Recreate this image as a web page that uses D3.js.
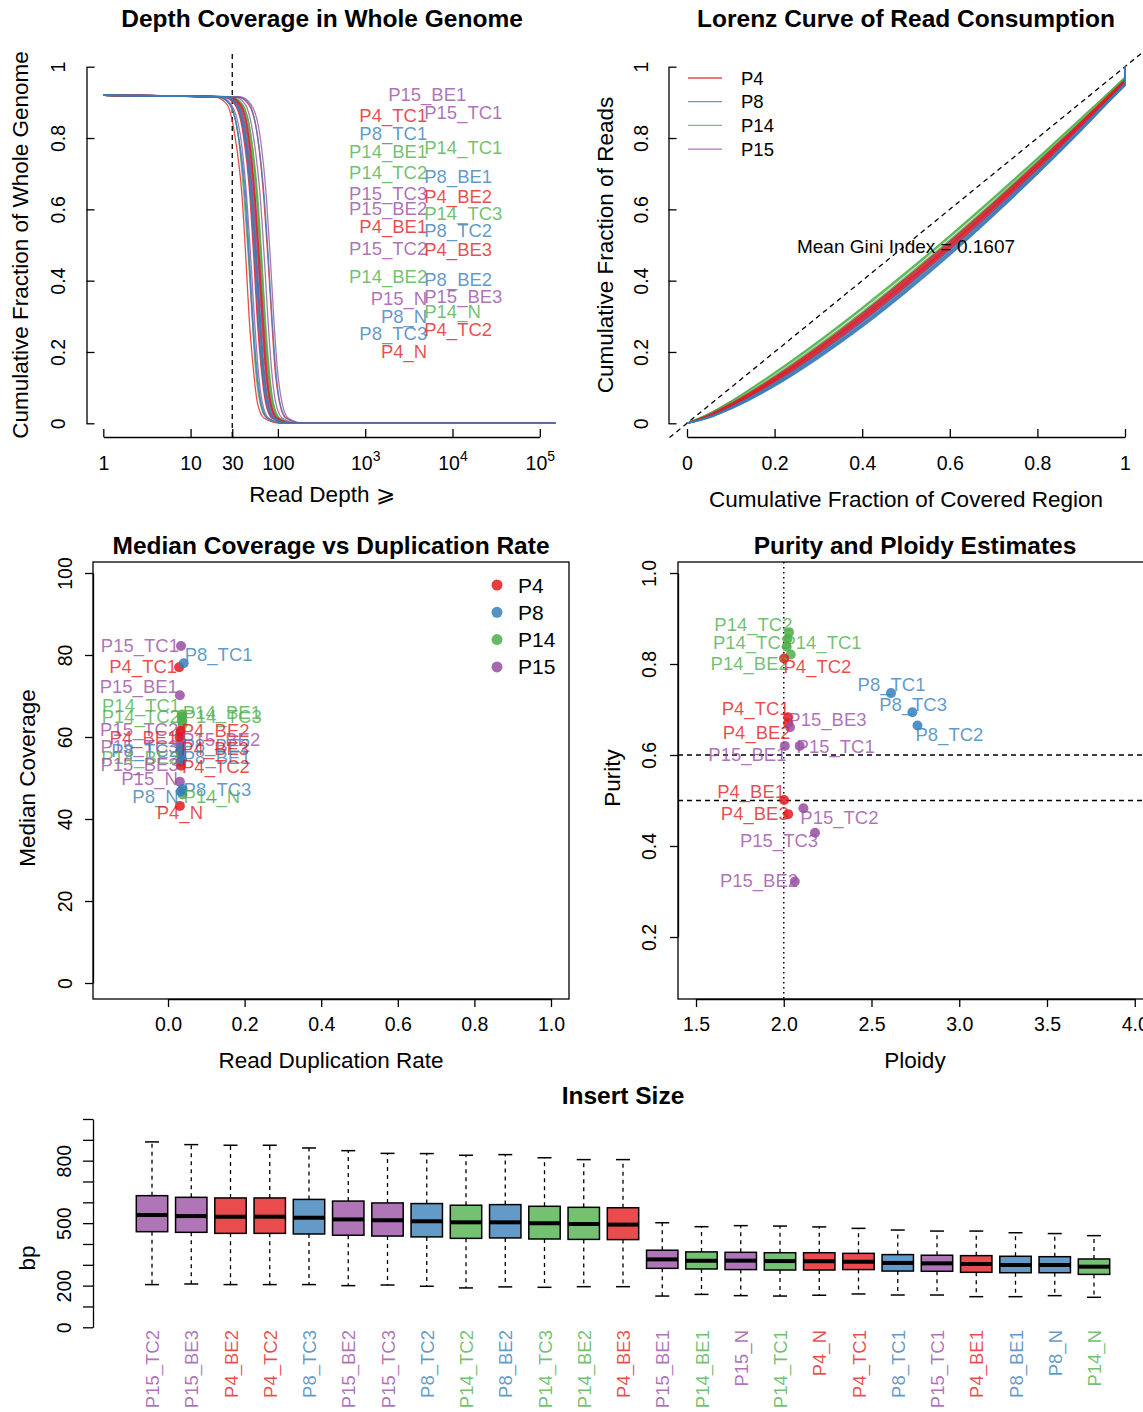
<!DOCTYPE html>
<html><head><meta charset="utf-8">
<script src="https://cdn.jsdelivr.net/npm/d3@7"></script>
<style>body{margin:0;background:#fff}</style>
</head><body><svg id="c" width="1143" height="1412"></svg>
<script>
// ---------------- data ----------------
const patients = ["P4","P8","P14","P15"];
const patientColors = ["#E41A1C","#377EB8","#4DAF4A","#984EA3"];

const samples = ["P14_BE1","P14_BE2","P14_N","P14_TC1","P14_TC2","P14_TC3",
  "P15_BE1","P15_BE2","P15_BE3","P15_N","P15_TC1","P15_TC2","P15_TC3",
  "P4_BE1","P4_BE2","P4_BE3","P4_N","P4_TC1","P4_TC2",
  "P8_BE1","P8_BE2","P8_N","P8_TC1","P8_TC2","P8_TC3"];

// depth (x) at which each sample's covered fraction reaches the levels below
const coverageLevels = [0.92,0.915,0.895,0.81,0.63,0.46,0.29,0.16,0.06,0.015,0,0];
const depthKnots = [
 [1,29,39,49,58,65,71,78,88,104,162,150000],
 [1,25,33,41,50,55,61,66,74,88,138,150000],
 [1,21,28,35,41,46,51,55,62,74,115,150000],
 [1,29,39,49,59,65.5,72,79,88,105,164,150000],
 [1,29,38,48,58,64,70,77,86,102,160,150000],
 [1,28,38,47,57,63,69,76,85,101,158,150000],
 [1,32,42,52,63,70,77,84,94,112,175,150000],
 [1,27,35,44,53,59,65,71,80,94,148,150000],
 [1,24,32,41,49,54,59,65,73,86,135,150000],
 [1,22,29,37,44,49,54,59,66,78,122,150000],
 [1,37,49,62,74,82,90,98,111,131,205,150000],
 [1,27,37,46,55,61,67,73,82,98,152,150000],
 [1,26,35,43,52,57.5,63,69,78,92,144,150000],
 [1,27,36,45,54,60,66,72,81,96,150,150000],
 [1,28,37,46,55,61.5,68,74,83,98,154,150000],
 [1,25,34,42,51,56.5,62,68,76,90,141,150000],
 [1,19,26,32,39,43,47,52,58,69,108,150000],
 [1,35,46,58,69,77,85,92,104,123,192,150000],
 [1,24,32,40,48,53,58,64,72,85,132,150000],
 [1,25,33,41,49,54.5,60,65,74,87,136,150000],
 [1,25,34,42,50,56,62,67,76,90,140,150000],
 [1,21,28,35,42,46.7,51,56,63,75,117,150000],
 [1,35,47,58,70,78,86,94,105,125,195,150000],
 [1,26,34,43,51,57,63,68,77,91,142,150000],
 [1,21,28,35,43,47.3,52,57,64,76,118,150000]];
const depthTicks = [1,10,30,100,1000,10000,100000];
const depthTickLabels = ["1","10","30","100","10^3","10^4","10^5"];
const depthLabelNames = ["P15_BE1","P4_TC1","P15_TC1","P8_TC1","P14_BE1","P14_TC1","P14_TC2","P8_BE1","P15_TC3","P4_BE2","P15_BE2","P14_TC3","P4_BE1","P8_TC2","P15_TC2","P4_BE3","P14_BE2","P8_BE2","P15_N","P15_BE3","P8_N","P14_N","P8_TC3","P4_TC2","P4_N"];
const depthLabelY = [0.921,0.862,0.871,0.813,0.762,0.774,0.703,0.692,0.645,0.635,0.603,0.589,0.551,0.542,0.491,0.486,0.413,0.404,0.351,0.355,0.299,0.313,0.252,0.262,0.201];
const depthLabelSide = ["C","L","R","L","L","R","L","R","L","R","L","R","L","R","L","R","L","R","L","R","L","R","L","R","L"];
const depthLabelAtDepth = 5000;
const depthCutoff = 30;

// Lorenz curves
const lorenzX = [0,0.05,0.1,0.2,0.3,0.4,0.5,0.6,0.7,0.8,0.9,0.95,1];
const lorenzY = [
 [0,.027,.061,.141,.229,.323,.422,.525,.632,.742,.855,.912,.970],
 [0,.024,.056,.131,.217,.310,.409,.512,.620,.732,.847,.905,.965],
 [0,.026,.060,.139,.226,.320,.419,.522,.629,.740,.853,.910,.968],
 [0,.025,.058,.134,.220,.313,.412,.515,.623,.735,.849,.907,.966],
 [0,.022,.053,.127,.211,.304,.403,.506,.615,.728,.844,.903,.962],
 [0,.027,.062,.143,.231,.325,.424,.527,.634,.744,.857,.913,.971],
 [0,.021,.050,.122,.206,.297,.395,.499,.608,.722,.839,.899,.960],
 [0,.020,.048,.118,.200,.291,.389,.493,.602,.716,.835,.895,.957],
 [0,.023,.054,.128,.213,.306,.405,.508,.617,.730,.845,.904,.963],
 [0,.021,.051,.124,.208,.300,.398,.501,.610,.724,.840,.900,.960],
 [0,.018,.046,.114,.195,.285,.383,.487,.596,.711,.831,.892,.955],
 [0,.019,.047,.116,.198,.288,.386,.490,.599,.714,.833,.894,.956],
 [0,.017,.043,.109,.189,.277,.375,.479,.589,.704,.825,.888,.948],
 [0,.024,.055,.130,.215,.308,.407,.510,.618,.731,.846,.905,.964],
 [0,.022,.052,.126,.210,.302,.401,.504,.613,.726,.842,.902,.962],
 [0,.020,.049,.121,.204,.295,.393,.497,.606,.720,.838,.898,.959],
 [0,.020,.048,.119,.201,.292,.390,.494,.603,.717,.836,.896,.957],
 [0,.019,.046,.115,.196,.286,.384,.488,.597,.712,.832,.893,.955],
 [0,.021,.050,.123,.207,.298,.396,.500,.609,.723,.840,.899,.960],
 [0,.017,.044,.110,.190,.279,.377,.481,.591,.706,.826,.889,.950],
 [0,.016,.041,.106,.185,.273,.370,.474,.585,.701,.823,.886,.950],
 [0,.018,.045,.113,.194,.283,.381,.485,.594,.709,.830,.891,.954],
 [0,.015,.040,.104,.182,.270,.367,.471,.582,.699,.821,.885,.947],
 [0,.017,.043,.108,.188,.276,.374,.478,.588,.703,.824,.887,.949],
 [0,.016,.041,.105,.184,.272,.369,.473,.584,.700,.822,.885,.946]];
const meanGini = "Mean Gini Index = 0.1607";

// Median coverage vs duplication rate (sample order as `samples`)
const medianCoverage = [65,55,46,65.5,64,63,70.2,59,54,49.1,82.2,61,57.5,60,61.5,56.5,43.2,77,53,54.5,56,46.7,78,57,47.3];
const dupRate = [.036,.035,.038,.037,.036,.038,.031,.034,.033,.031,.034,.032,.033,.030,.033,.032,.031,.029,.034,.036,.035,.033,.041,.034,.038];
const covLabelNames = ["P15_TC1","P4_TC1","P15_BE1","P14_TC1","P14_TC2","P15_TC2","P4_BE1","P15_TC3","P8_TC2","P14_BE2","P15_BE3","P15_N","P8_N","P4_N",
  "P8_TC1","P14_BE1","P14_TC3","P4_BE2","P15_BE2","P8_BE2","P4_BE3","P8_BE1","P4_TC2","P8_TC3","P14_N"];
const covLabelY = [82.2,77.1,72.4,67.6,65.0,61.9,59.9,57.6,56.8,55.1,53.2,49.8,45.6,41.5,
  80.2,65.9,64.9,61.7,59.5,58.0,57.1,55.1,52.7,47.3,45.4];
const covLabelSide = ["L","L","L","L","L","L","L","L","L","L","L","L","L","B","R","R","R","R","R","R","R","R","R","R","R"];

// Purity / ploidy
const puritySamples = ["P14_TC2","P14_TC3","P14_TC1","P14_BE2","P4_TC2","P8_TC1","P8_TC3","P8_TC2","P4_TC1","P4_BE2","P15_BE3","P15_BE1","P15_TC1","P4_BE1","P4_BE3","P15_TC2","P15_TC3","P15_BE2"];
const ploidy = [2.030,2.021,2.017,2.040,2.002,2.611,2.733,2.762,2.025,2.025,2.036,2.006,2.091,2.002,2.025,2.112,2.178,2.063];
const purity = [0.870,0.855,0.838,0.821,0.812,0.736,0.694,0.665,0.683,0.670,0.661,0.620,0.620,0.501,0.470,0.483,0.429,0.322];
const purityLabelX = [1.827,1.819,2.221,1.806,2.192,2.614,2.737,2.944,1.840,1.846,2.249,1.793,2.296,1.814,1.835,2.317,1.973,1.859];
const purityLabelY = [0.886,0.848,0.848,0.802,0.794,0.754,0.711,0.646,0.703,0.649,0.678,0.602,0.618,0.519,0.472,0.463,0.412,0.324];
const purityRefLines = [0.6,0.5];
const ploidyRef = 2.0;

// Insert size boxplots
const boxOrder = ["P15_TC2","P15_BE3","P4_BE2","P4_TC2","P8_TC3","P15_BE2","P15_TC3","P8_TC2","P14_TC2","P8_BE2","P14_TC3","P14_BE2","P4_BE3",
  "P15_BE1","P14_BE1","P15_N","P14_TC1","P4_N","P4_TC1","P8_TC1","P15_TC1","P4_BE1","P8_BE1","P8_N","P14_N"];
const whiskerHigh = [890,877,874,874,861,848,835,834,826,829,814,805,805,502,483,488,486,482,475,467,462,462,454,450,440];
const q3 = [632,624,621,621,614,606,597,594,586,589,581,576,574,370,362,360,358,358,355,349,346,344,341,339,328];
const median = [539,534,531,531,526,518,514,509,504,504,499,496,493,326,320,320,318,317,315,309,307,304,299,299,291];
const q1 = [459,456,451,451,448,442,438,434,427,429,424,422,421,283,280,277,275,275,277,270,269,264,262,262,254];
const whiskerLow = [205,208,205,205,205,200,203,197,189,194,192,195,195,150,158,152,150,154,160,155,155,147,147,152,144];
const bpTicks = [0,100,200,300,400,500,600,700,800,900,1000];
const bpTickLabels = [0,200,500,800];

// ---------------- drawing ----------------
const FONT = '"Liberation Sans", Arial, Helvetica, sans-serif';
const svg = d3.select("#c").attr("font-family", FONT);
const col = s => patientColors[patients.indexOf(s.split("_")[0])];
const TICKFS = 19.5, LABFS = 18.5, AXFS = 22.5, TITFS = 24.5;

function text(x, y, str, o = {}) {
  const t = svg.append("text").attr("x", x).attr("y", y).text(str)
    .attr("font-size", o.fs || AXFS).attr("text-anchor", o.anchor || "middle")
    .attr("dominant-baseline", "central").attr("fill", o.fill || "#000");
  if (o.bold) t.attr("font-weight", "bold");
  if (o.rot) t.attr("transform", `rotate(-90,${x},${y})`);
  if (o.op) t.attr("fill-opacity", o.op);
  return t;
}
function styleAxis(g) {
  g.attr("font-family", FONT).attr("font-size", TICKFS);
  g.select(".domain").attr("stroke", "#000").attr("stroke-width", 1.3);
  g.selectAll(".tick line").attr("stroke", "#000").attr("stroke-width", 1.3);
  g.selectAll(".tick text").attr("fill", "#000");
}
function rotY(g, off) {
  g.selectAll(".tick text").attr("transform", "rotate(-90)").attr("x", 0).attr("y", -off)
    .attr("dy", null).attr("text-anchor", "middle").attr("dominant-baseline", "central");
}
function xLab(g, off) {
  g.selectAll(".tick text").attr("y", off).attr("dy", null).attr("dominant-baseline", "central");
}

// ===== Panel 1: Depth coverage =====
const xD = d3.scaleLog().domain([1, 1e5]).range([103.3, 539.8]);
const yD = d3.scaleLinear().domain([0, 1]).range([423.3, 66.7]);
const fmt01 = d => d === 0 ? "0" : d === 1 ? "1" : d3.format(".1f")(d);

let g = svg.append("g").attr("transform", "translate(0,437)")
  .call(d3.axisBottom(xD).tickValues(depthTicks).tickFormat((d, i) => depthTickLabels[i]).tickSizeInner(-8).tickSizeOuter(0));
styleAxis(g); xLab(g, 26);
g.selectAll(".tick text").each(function(d, i) {
  const lab = depthTickLabels[i];
  if (lab.includes("^")) {
    const [b, e] = lab.split("^");
    const t = d3.select(this).text(null);
    t.append("tspan").text(b);
    t.append("tspan").attr("dy", "-0.5em").attr("font-size", 14).text(e);
  }
});
g = svg.append("g").attr("transform", "translate(86.5,0)")
  .call(d3.axisLeft(yD).tickValues([0, .2, .4, .6, .8, 1]).tickFormat(fmt01).tickSizeInner(-8).tickSizeOuter(0));
styleAxis(g); rotY(g, 29);

svg.append("line").attr("x1", xD(depthCutoff)).attr("x2", xD(depthCutoff)).attr("y1", 54).attr("y2", 437)
  .attr("stroke", "#000").attr("stroke-width", 1.3).attr("stroke-dasharray", "5,4");

const depthLine = d3.line().x(d => xD(d[0])).y(d => yD(d[1])).curve(d3.curveMonotoneX);
samples.forEach((s, i) => {
  const pts = depthKnots[i].map((d, j) => [d, coverageLevels[j]]);
  svg.append("path").attr("d", depthLine(pts)).attr("fill", "none")
    .attr("stroke", col(s)).attr("stroke-opacity", 0.78).attr("stroke-width", 1.3);
});
depthLabelNames.forEach((s, i) => {
  const side = depthLabelSide[i];
  const x = xD(depthLabelAtDepth) + (side === "L" ? 1 : side === "R" ? -2 : 1);
  text(x, yD(depthLabelY[i]), s, { fs: LABFS, fill: col(s), op: 0.78,
    anchor: side === "L" ? "end" : side === "R" ? "start" : "middle" });
});
text(322, 18, "Depth Coverage in Whole Genome", { fs: TITFS, bold: true });
text(322, 494, "Read Depth \u2A7E");
text(20, 245, "Cumulative Fraction of Whole Genome", { rot: true });

// ===== Panel 2: Lorenz =====
const xL = d3.scaleLinear().domain([0, 1]).range([687, 1125]);
const yL = yD;
g = svg.append("g").attr("transform", "translate(0,437)")
  .call(d3.axisBottom(xL).tickValues([0, .2, .4, .6, .8, 1]).tickFormat(fmt01).tickSizeInner(-8).tickSizeOuter(0));
styleAxis(g); xLab(g, 26);
g = svg.append("g").attr("transform", "translate(668.5,0)")
  .call(d3.axisLeft(yL).tickValues([0, .2, .4, .6, .8, 1]).tickFormat(fmt01).tickSizeInner(-8).tickSizeOuter(0));
styleAxis(g); rotY(g, 28);

svg.append("line").attr("x1", xL(-0.04)).attr("y1", yL(-0.04)).attr("x2", xL(1.04)).attr("y2", yL(1.04))
  .attr("stroke", "#000").attr("stroke-width", 1.3).attr("stroke-dasharray", "5,4");
const lorLine = d3.line().x(d => xL(d[0])).y(d => yL(d[1])).curve(d3.curveMonotoneX);
samples.forEach((s, i) => {
  const pts = lorenzX.map((x, j) => [x, lorenzY[i][j]]);
  svg.append("path").attr("d", lorLine(pts) + `L${xL(1)},${yL(1)}`).attr("fill", "none")
    .attr("stroke", col(s)).attr("stroke-opacity", 0.78).attr("stroke-width", 1.3);
});
patients.forEach((p, i) => {
  const y = 78 + i * 23.7;
  svg.append("line").attr("x1", 688).attr("x2", 722).attr("y1", y).attr("y2", y)
    .attr("stroke", patientColors[i]).attr("stroke-opacity", 0.78).attr("stroke-width", 1.3);
  text(741, y, p, { fs: LABFS, anchor: "start" });
});
text(906, 246, meanGini, { fs: 19 });
text(906, 18, "Lorenz Curve of Read Consumption", { fs: TITFS, bold: true });
text(906, 499, "Cumulative Fraction of Covered Region");
text(605, 245, "Cumulative Fraction of Reads", { rot: true });

// ===== Panel 3: Median coverage vs duplication =====
const xC = d3.scaleLinear().domain([0, 1]).range([168, 551]);
const yC = d3.scaleLinear().domain([0, 100]).range([983, 573]);
svg.append("rect").attr("x", 93).attr("y", 562).attr("width", 476).attr("height", 437)
  .attr("fill", "none").attr("stroke", "#000").attr("stroke-width", 1.3);
g = svg.append("g").attr("transform", "translate(0,999)")
  .call(d3.axisBottom(xC).tickValues([0, .2, .4, .6, .8, 1]).tickFormat(d3.format(".1f")).tickSizeInner(8).tickSizeOuter(0));
styleAxis(g); xLab(g, 25);
g = svg.append("g").attr("transform", "translate(93,0)")
  .call(d3.axisLeft(yC).tickValues([0, 20, 40, 60, 80, 100]).tickSizeInner(8).tickSizeOuter(0));
styleAxis(g); rotY(g, 28);

samples.forEach((s, i) => {
  svg.append("circle").attr("cx", xC(dupRate[i])).attr("cy", yC(medianCoverage[i])).attr("r", 5)
    .attr("fill", col(s)).attr("fill-opacity", 0.85);
});
covLabelNames.forEach((s, i) => {
  const k = samples.indexOf(s);
  const side = covLabelSide[i];
  const px = xC(dupRate[k]);
  const x = side === "L" ? px - 2 : side === "R" ? px + 1 : px;
  text(x, yC(covLabelY[i]), s, { fs: LABFS, fill: col(s), op: 0.78,
    anchor: side === "L" ? "end" : side === "R" ? "start" : "middle" });
});
patients.forEach((p, i) => {
  const y = 585 + i * 27.3;
  svg.append("circle").attr("cx", 497).attr("cy", y).attr("r", 5.5).attr("fill", patientColors[i]).attr("fill-opacity", 0.85);
  text(518, y, p, { fs: 21, anchor: "start" });
});
text(331, 545, "Median Coverage vs Duplication Rate", { fs: TITFS, bold: true });
text(331, 1060, "Read Duplication Rate");
text(27, 778, "Median Coverage", { rot: true });

// ===== Panel 4: Purity / Ploidy =====
const xP = d3.scaleLinear().domain([1.5, 4.0]).range([696, 1134.75]);
const yP = d3.scaleLinear().domain([0.2, 1.0]).range([937, 573]);
svg.append("rect").attr("x", 678).attr("y", 562).attr("width", 474).attr("height", 437)
  .attr("fill", "none").attr("stroke", "#000").attr("stroke-width", 1.3);
g = svg.append("g").attr("transform", "translate(0,999)")
  .call(d3.axisBottom(xP).tickValues([1.5, 2, 2.5, 3, 3.5, 4]).tickFormat(d3.format(".1f")).tickSizeInner(8).tickSizeOuter(0));
styleAxis(g); xLab(g, 25);
g = svg.append("g").attr("transform", "translate(678,0)")
  .call(d3.axisLeft(yP).tickValues([.2, .4, .6, .8, 1]).tickFormat(d3.format(".1f")).tickSizeInner(8).tickSizeOuter(0));
styleAxis(g); rotY(g, 29);

purityRefLines.forEach(v => {
  svg.append("line").attr("x1", 678).attr("x2", 1152).attr("y1", yP(v)).attr("y2", yP(v))
    .attr("stroke", "#000").attr("stroke-width", 1.3).attr("stroke-dasharray", "5,4");
});
svg.append("line").attr("x1", xP(ploidyRef)).attr("x2", xP(ploidyRef)).attr("y1", 562).attr("y2", 999)
  .attr("stroke", "#000").attr("stroke-width", 1.5).attr("stroke-dasharray", "1.5,3.5");
puritySamples.forEach((s, i) => {
  svg.append("circle").attr("cx", xP(ploidy[i])).attr("cy", yP(purity[i])).attr("r", 5)
    .attr("fill", col(s)).attr("fill-opacity", 0.85);
});
puritySamples.forEach((s, i) => {
  text(xP(purityLabelX[i]), yP(purityLabelY[i]), s, { fs: LABFS, fill: col(s), op: 0.78 });
});
text(915, 545, "Purity and Ploidy Estimates", { fs: TITFS, bold: true });
text(915, 1060, "Ploidy");
text(612, 778, "Purity", { rot: true });

// ===== Panel 5: Insert size =====
const xB = d3.scalePoint().domain(boxOrder).range([152, 1094]);
const yB = d3.scaleLinear().domain([0, 1000]).range([1327.3, 1119]);
g = svg.append("g").attr("transform", "translate(93,0)")
  .call(d3.axisLeft(yB).tickValues(bpTicks).tickFormat(d => bpTickLabels.includes(d) ? d : "").tickSizeInner(10).tickSizeOuter(0));
styleAxis(g); rotY(g, 29);
const bw = 31.4, cap = 7;
boxOrder.forEach((s, i) => {
  const x = xB(s);
  [[q3[i], whiskerHigh[i]], [q1[i], whiskerLow[i]]].forEach(([a, b]) => {
    svg.append("line").attr("x1", x).attr("x2", x).attr("y1", yB(a)).attr("y2", yB(b))
      .attr("stroke", "#000").attr("stroke-width", 1.3).attr("stroke-dasharray", "4,4");
    svg.append("line").attr("x1", x - cap).attr("x2", x + cap).attr("y1", yB(b)).attr("y2", yB(b))
      .attr("stroke", "#000").attr("stroke-width", 1.5);
  });
  svg.append("rect").attr("x", x - bw / 2).attr("y", yB(q3[i])).attr("width", bw).attr("height", yB(q1[i]) - yB(q3[i]))
    .attr("fill", col(s)).attr("fill-opacity", 0.78).attr("stroke", "#000").attr("stroke-width", 1.5);
  svg.append("line").attr("x1", x - bw / 2).attr("x2", x + bw / 2).attr("y1", yB(median[i])).attr("y2", yB(median[i]))
    .attr("stroke", "#000").attr("stroke-width", 4);
});
g = svg.append("g").attr("transform", "translate(0,1330)")
  .call(d3.axisBottom(xB).tickSize(0));
g.select(".domain").remove();
g.attr("font-family", FONT).attr("font-size", LABFS);
g.selectAll(".tick text").attr("transform", "rotate(-90)").attr("x", 0).attr("y", 0).attr("dy", null)
  .attr("text-anchor", "end").attr("dominant-baseline", "central")
  .attr("fill", d => col(d)).attr("fill-opacity", 0.78);
text(623, 1095, "Insert Size", { fs: TITFS, bold: true });
text(27, 1258, "bp", { rot: true });
</script></body></html>
